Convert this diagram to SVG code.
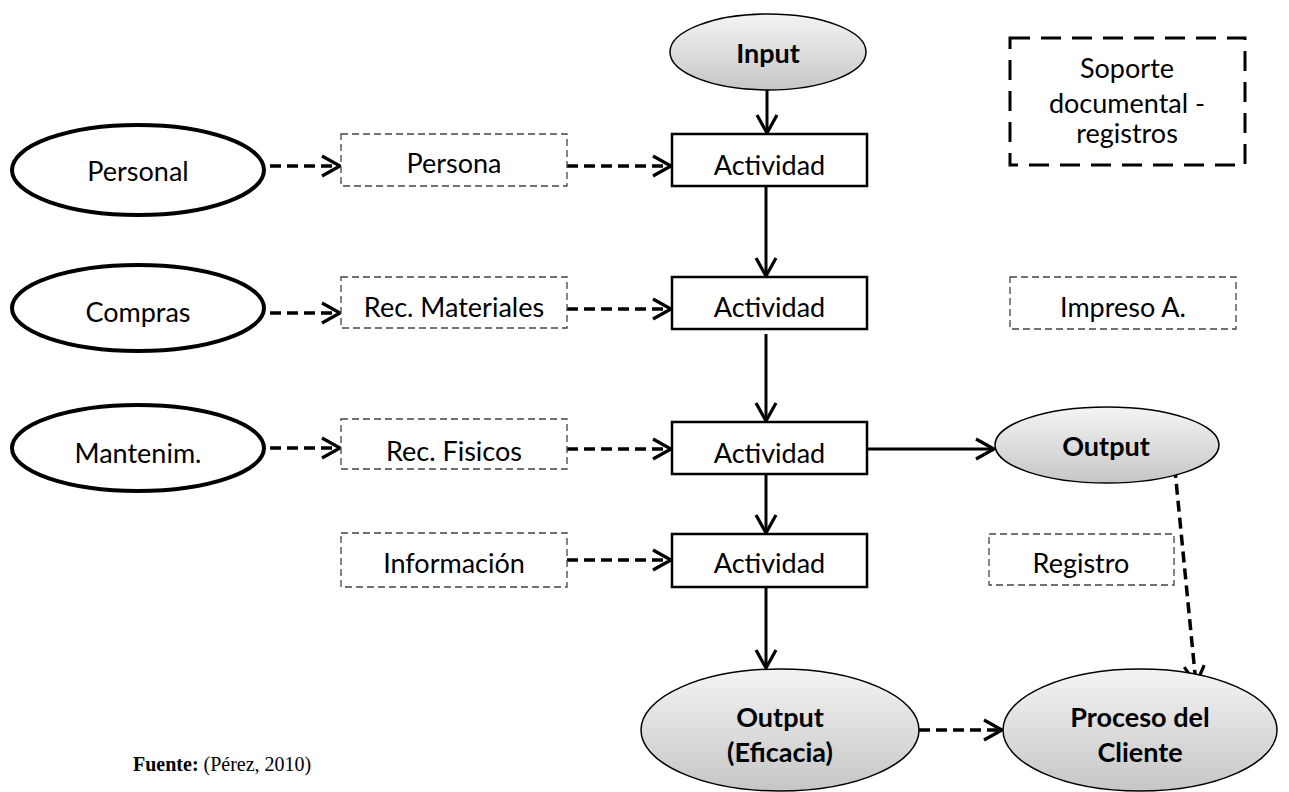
<svg xmlns="http://www.w3.org/2000/svg" width="1289" height="792" viewBox="0 0 1289 792">
<style>
  .t { font-family: Lato, "Open Sans", "Liberation Sans", sans-serif; font-size: 27px; fill: #000; text-anchor: middle; }
  .b { font-weight: bold; }
  .src { font-family: "Liberation Serif", "Times New Roman", serif; font-size: 20px; fill: #000; }
  .src-ell { fill: #fff; stroke: #000; stroke-width: 4; }
  .io { fill: url(#g); stroke: #000; stroke-width: 1.5; }
  .act { fill: #fff; stroke: #000; stroke-width: 2.5; }
  .doc { fill: #fff; stroke: #444; stroke-width: 1.3; stroke-dasharray: 7 4; }
  .sop { fill: #fff; stroke: #000; stroke-width: 3; stroke-dasharray: 20 11; }
  .solid { fill: none; stroke: #000; stroke-width: 3; marker-end: url(#arr); }
  .dash { fill: none; stroke: #000; stroke-width: 3.5; stroke-dasharray: 11 6; marker-end: url(#arr); }
</style>
<defs>
  <linearGradient id="g" x1="0" y1="0" x2="0" y2="1">
    <stop offset="0" stop-color="#f4f4f4"/>
    <stop offset="1" stop-color="#c6c6c6"/>
  </linearGradient>
  <marker id="arr" markerUnits="userSpaceOnUse" viewBox="0 0 22 24" refX="20" refY="12" markerWidth="22" markerHeight="24" orient="auto">
    <path d="M2,2 L20,12 L2,22" fill="none" stroke="#000" stroke-width="3.2"/>
  </marker>
</defs>
<rect width="1289" height="792" fill="#fff"/>

<g id="connectors">
  <line class="solid" x1="767" y1="90" x2="767" y2="133"/>
  <line class="solid" x1="766" y1="186" x2="766" y2="276"/>
  <line class="solid" x1="766" y1="334" x2="766" y2="421"/>
  <line class="solid" x1="766" y1="474" x2="766" y2="533"/>
  <line class="solid" x1="766" y1="587" x2="766" y2="668"/>
  <line class="solid" x1="867" y1="449" x2="994" y2="449"/>
  <line class="dash" x1="270" y1="166" x2="340" y2="166"/>
  <line class="dash" x1="567" y1="166" x2="671" y2="166"/>
  <line class="dash" x1="270" y1="313" x2="340" y2="313"/>
  <line class="dash" x1="567" y1="309" x2="671" y2="309"/>
  <line class="dash" x1="270" y1="448" x2="340" y2="448"/>
  <line class="dash" x1="567" y1="449" x2="671" y2="449"/>
  <line class="dash" x1="567" y1="560" x2="671" y2="560"/>
  <line class="dash" x1="919" y1="730" x2="1002" y2="730"/>
  <line class="dash" x1="1173" y1="450" x2="1196" y2="684"/>
</g>

<g id="input">
  <ellipse class="io" cx="768" cy="52" rx="98" ry="38"/>
  <text class="t b" x="768" y="63">Input</text>
</g>
<g id="soporte">
  <rect class="sop" x="1010" y="38" width="235" height="127"/>
  <text class="t" x="1127" y="78">Soporte</text>
  <text class="t" x="1127" y="113">documental -</text>
  <text class="t" x="1127" y="143">registros</text>
</g>

<g id="personal">
  <ellipse class="src-ell" cx="138" cy="170" rx="126" ry="45"/>
  <text class="t" x="138" y="181">Personal</text>
</g>
<g id="persona">
  <rect class="doc" x="341" y="134" width="226" height="52"/>
  <text class="t" x="454" y="173">Persona</text>
</g>
<g id="actividad1">
  <rect class="act" x="672" y="134" width="195" height="52"/>
  <text class="t" x="769.5" y="175">Actividad</text>
</g>

<g id="compras">
  <ellipse class="src-ell" cx="138" cy="308" rx="126" ry="43"/>
  <text class="t" x="138" y="322">Compras</text>
</g>
<g id="rec-materiales">
  <rect class="doc" x="341" y="277" width="226" height="51"/>
  <text class="t" x="454" y="317">Rec. Materiales</text>
</g>
<g id="actividad2">
  <rect class="act" x="672" y="277" width="195" height="52"/>
  <text class="t" x="769.5" y="317">Actividad</text>
</g>
<g id="impreso">
  <rect class="doc" x="1010" y="277" width="226" height="52"/>
  <text class="t" x="1123" y="317">Impreso A.</text>
</g>

<g id="mantenim">
  <ellipse class="src-ell" cx="138" cy="448" rx="126" ry="43"/>
  <text class="t" x="138" y="463">Mantenim.</text>
</g>
<g id="rec-fisicos">
  <rect class="doc" x="341" y="419" width="226" height="50"/>
  <text class="t" x="454" y="461">Rec. Fisicos</text>
</g>
<g id="actividad3">
  <rect class="act" x="672" y="422" width="195" height="52"/>
  <text class="t" x="769.5" y="463">Actividad</text>
</g>
<g id="output">
  <ellipse class="io" cx="1107" cy="445" rx="112" ry="38"/>
  <text class="t b" x="1106" y="456">Output</text>
</g>

<g id="informacion">
  <rect class="doc" x="341" y="533" width="226" height="54"/>
  <text class="t" x="454" y="573">Información</text>
</g>
<g id="actividad4">
  <rect class="act" x="672" y="534" width="195" height="53"/>
  <text class="t" x="769.5" y="573">Actividad</text>
</g>
<g id="registro">
  <rect class="doc" x="989" y="534" width="185" height="51"/>
  <text class="t" x="1081" y="573">Registro</text>
</g>

<g id="output-eficacia">
  <ellipse class="io" cx="780" cy="730" rx="139" ry="61"/>
  <text class="t b" x="780" y="727">Output</text>
  <text class="t b" x="780" y="762">(Eficacia)</text>
</g>
<g id="proceso-cliente">
  <ellipse class="io" cx="1140" cy="730" rx="137" ry="61"/>
  <text class="t b" x="1140" y="727">Proceso del</text>
  <text class="t b" x="1140" y="762">Cliente</text>
</g>

<g id="fuente">
  <text class="src" x="133" y="771"><tspan font-weight="bold">Fuente:</tspan> (Pérez, 2010)</text>
</g>
</svg>
